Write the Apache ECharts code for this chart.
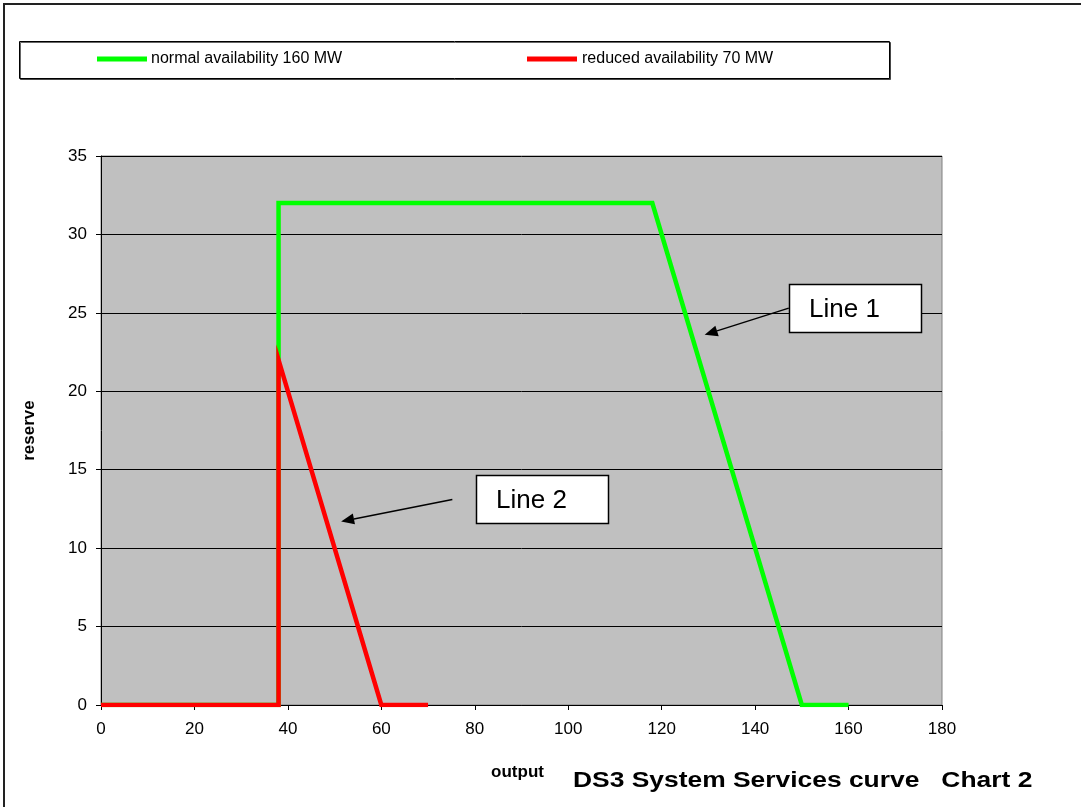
<!DOCTYPE html>
<html>
<head>
<meta charset="utf-8">
<script src="https://cdn.jsdelivr.net/npm/echarts@6/dist/echarts.min.js"></script>
<style>
html,body{margin:0;padding:0;background:#fff;}
#chart{width:1081px;height:807px;}
</style>
</head>
<body>
<div id="chart"></div>
<script>
// ---- data ----
const seriesNames = ['normal availability 160 MW', 'reduced availability 70 MW'];
const normalData = [[0, 0], [38, 0], [38, 32], [118, 32], [150, 0], [160, 0]];
const reducedData = [[0, 0], [38, 0], [38, 22], [60, 0], [70, 0]];
const xTicks = [0, 20, 40, 60, 80, 100, 120, 140, 160, 180];
const yTicks = [0, 5, 10, 15, 20, 25, 30, 35];
const annotations = [
  { text: 'Line 1', box: [147.2, 26.85], tail: [147.2, 25.3], tip: [129.2, 23.6] },
  { text: 'Line 2', box: [80.2, 14.65], tail: [75.2, 13.1], tip: [51.4, 11.7] }
];
const chartTitle = 'DS3 System Services curve   Chart 2';

const FONT = '"Liberation Sans", Arial, sans-serif';
const chart = echarts.init(document.getElementById('chart'), null, { renderer: 'canvas' });

const option = {
  backgroundColor: '#ffffff',
  animation: false,
  textStyle: { fontFamily: FONT, color: '#000' },
  legend: [
    {
      data: [seriesNames[0]], left: 92, top: 46, itemWidth: 50, itemHeight: 5, icon: 'rect',
      textStyle: { fontFamily: FONT, fontSize: 16, color: '#000', padding: [0, 0, 0, -1] }
    },
    {
      data: [seriesNames[1]], left: 522, top: 46, itemWidth: 50, itemHeight: 5, icon: 'rect',
      textStyle: { fontFamily: FONT, fontSize: 16, color: '#000', padding: [0, 0, 0, 0] }
    }
  ],
  grid: {
    left: 101, right: 139, top: 156, bottom: 102,
    show: true, backgroundColor: '#C0C0C0', borderColor: '#808080', borderWidth: 1
  },
  xAxis: {
    type: 'value', min: 0, max: 180, interval: 20,
    name: 'output', nameLocation: 'middle', nameGap: 59,
    nameTextStyle: { fontFamily: FONT, fontSize: 17, fontWeight: 'bold', color: '#000', padding: [0, 8, 0, 0] },
    axisLine: { show: true, onZero: false, lineStyle: { color: '#000', width: 1 } },
    axisTick: { show: true, inside: false, length: 5, lineStyle: { color: '#000' } },
    axisLabel: { margin: 16, fontFamily: FONT, fontSize: 17, color: '#000',
      formatter: v => xTicks.includes(v) ? String(v) : '' },
    splitLine: { show: false }
  },
  yAxis: {
    type: 'value', min: 0, max: 35, interval: 5,
    name: 'reserve', nameLocation: 'middle', nameGap: 63, nameRotate: 90,
    nameTextStyle: { fontFamily: FONT, fontSize: 17, fontWeight: 'bold', color: '#000' },
    axisLine: { show: true, lineStyle: { color: '#000', width: 1 } },
    axisTick: { show: true, inside: false, length: 5, lineStyle: { color: '#000' } },
    axisLabel: { margin: 14, fontFamily: FONT, fontSize: 17, color: '#000',
      formatter: v => yTicks.includes(v) ? String(v) : '' },
    splitLine: { show: true, lineStyle: { color: '#000', width: 1 } }
  },
  series: [
    {
      name: seriesNames[0], type: 'line', data: normalData,
      showSymbol: false, symbol: 'none', color: '#00FF00',
      lineStyle: { color: '#00FF00', width: 4.5, join: 'miter' }, z: 3
    },
    {
      name: seriesNames[1], type: 'line', data: reducedData,
      showSymbol: false, symbol: 'none', color: '#FF0000',
      lineStyle: { color: '#FF0000', width: 4.5, join: 'miter' }, z: 4
    }
  ]
};
chart.setOption(option);

// decorations: outer frame, legend box, title, annotation boxes & arrows
const gfx = [
  { type: 'rect', shape: { x: 4, y: 4, width: 1200, height: 1000 }, style: { fill: 'none', stroke: '#222', lineWidth: 2 }, z: 0, silent: true },
  { type: 'rect', shape: { x: 19.5, y: 41.5, width: 870, height: 37 },
    style: { fill: '#fff', stroke: '#000', lineWidth: 1, shadowColor: 'rgba(0,0,0,0.6)', shadowOffsetX: 1, shadowOffsetY: 1 }, z: -1, silent: true },
  { type: 'text', x: 573, y: 781, scaleX: 1.2, scaleY: 1, originX: 0, originY: 0,
    style: { text: chartTitle, fontFamily: FONT, fontSize: 22, fontWeight: 'bold', fill: '#000', textVerticalAlign: 'middle', verticalAlign: 'middle' }, z: 10, silent: true }
];
annotations.forEach(a => {
  const b = chart.convertToPixel({ gridIndex: 0 }, a.box);
  const t = chart.convertToPixel({ gridIndex: 0 }, a.tail);
  const p = chart.convertToPixel({ gridIndex: 0 }, a.tip);
  const ang = Math.atan2(p[1] - t[1], p[0] - t[0]);
  const hl = 13, hw = 5.5;
  const bx = p[0] - hl * Math.cos(ang), by = p[1] - hl * Math.sin(ang);
  const nx = -Math.sin(ang), ny = Math.cos(ang);
  gfx.push({ type: 'line', shape: { x1: t[0], y1: t[1], x2: bx, y2: by }, style: { stroke: '#000', lineWidth: 1.5 }, z: 10, silent: true });
  gfx.push({ type: 'polygon', shape: { points: [[p[0], p[1]], [bx + nx * hw, by + ny * hw], [bx - nx * hw, by - ny * hw]] }, style: { fill: '#000' }, z: 10, silent: true });
  gfx.push({ type: 'rect', shape: { x: Math.round(b[0]) + 0.5, y: Math.round(b[1]) + 0.5, width: 132, height: 48 }, style: { fill: '#fff', stroke: '#000', lineWidth: 1.5 }, z: 10, silent: true });
  gfx.push({ type: 'text', x: Math.round(b[0]) + 20, y: Math.round(b[1]) + 26, style: { text: a.text, fontFamily: FONT, fontSize: 26, fill: '#000', textVerticalAlign: 'middle', verticalAlign: 'middle' }, z: 11, silent: true });
});
chart.setOption({ graphic: gfx });
</script>
</body>
</html>
